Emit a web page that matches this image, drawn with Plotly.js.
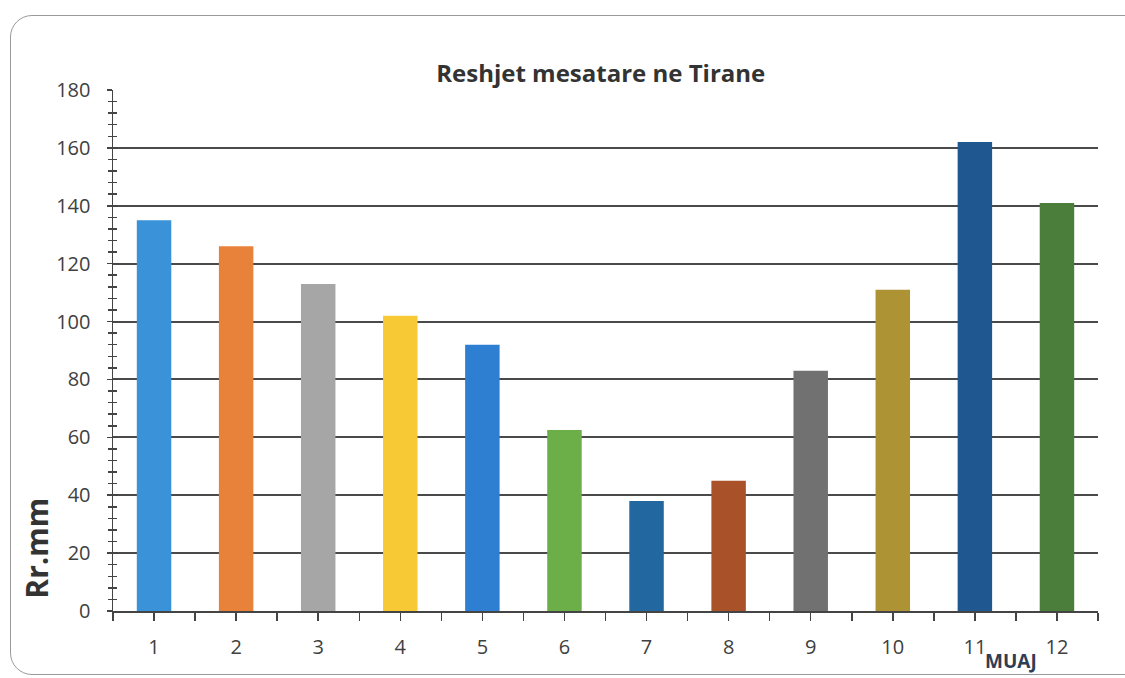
<!DOCTYPE html>
<html>
<head>
<meta charset="utf-8">
<script src="https://cdn.plot.ly/plotly-3.0.1.min.js"></script>
<style>
  html, body { margin: 0; padding: 0; background: #ffffff; }
  #frame { position: absolute; left: 10px; top: 15px; width: 1140px; height: 660px;
           border: 1.5px solid #9a9a9a; border-radius: 22px; box-sizing: border-box; }
  #chart { position: absolute; left: 0; top: 0; width: 1125px; height: 678px; }
</style>
</head>
<body>
<div id="frame"></div>
<div id="chart"></div>
<script>
const months = [1, 2, 3, 4, 5, 6, 7, 8, 9, 10, 11, 12];
const rainfall = [135, 126, 113, 102, 92, 62.5, 38, 45, 83, 111, 162, 141];
const barColors = ['#3a93d8', '#e8823a', '#a6a6a6', '#f7c934', '#2e7fd2', '#6cae48',
                   '#22679f', '#a9522a', '#717171', '#ad9334', '#1f5790', '#4b7e3a'];
const chartTitle = 'Reshjet mesatare ne Tirane';
const yTitle = 'Rr.mm';
const xTitle = 'MUAJ';

const fontFam = '"Open Sans", "Noto Sans", sans-serif';

const trace = {
  type: 'bar',
  x: months,
  y: rainfall,
  width: 0.42,
  marker: { color: barColors, line: { width: 0 } },
  hoverinfo: 'x+y'
};

// invisible trace to carry the second (inside-tick) y axis
const ghost = {
  type: 'scatter', x: [months[0]], y: [0], yaxis: 'y2',
  mode: 'markers', marker: { opacity: 0 }, showlegend: false, hoverinfo: 'skip'
};

const layout = {
  width: 1125, height: 678,
  margin: { l: 113, r: 27, t: 90, b: 67 },
  paper_bgcolor: 'rgba(0,0,0,0)',
  plot_bgcolor: 'rgba(0,0,0,0)',
  showlegend: false,
  bargap: 0.58,
  title: {
    text: chartTitle,
    font: { family: fontFam, size: 24, color: '#333333', weight: 'bold' },
    x: 0.534, xanchor: 'center', y: 0.892, yanchor: 'middle'
  },
  xaxis: {
    range: [0.5, 12.5],
    tickmode: 'array', tickvals: months, ticktext: months.map(String),
    ticks: 'outside', ticklen: 8, tickwidth: 1.5, tickcolor: '#444',
    minor: { tickmode: 'linear', tick0: 0.5, dtick: 1, ticks: 'outside', ticklen: 8, tickwidth: 1.5, tickcolor: '#444' },
    showline: true, linecolor: '#444', linewidth: 1.5,
    showgrid: false, zeroline: false,
    ticklabelstandoff: 9,
    tickfont: { family: fontFam, size: 20, color: '#404040' }
  },
  yaxis: {
    range: [0, 180],
    tickmode: 'linear', tick0: 0, dtick: 20,
    ticks: 'outside', ticklen: 5, tickwidth: 1.5, tickcolor: '#444',
    minor: { tickmode: 'linear', tick0: 0, dtick: 4, ticks: 'outside', ticklen: 4, tickwidth: 1.5, tickcolor: '#444', showgrid: false },
    showline: true, linecolor: '#444', linewidth: 1.5,
    showgrid: true, gridcolor: '#4a4a4a', gridwidth: 2,
    zeroline: false,
    ticklabelstandoff: 12,
    tickfont: { family: fontFam, size: 20, color: '#404040' }
  },
  yaxis2: {
    overlaying: 'y', side: 'left', anchor: 'x',
    range: [0, 180],
    tickmode: 'linear', tick0: 0, dtick: 20,
    ticks: 'inside', ticklen: 5, tickwidth: 1.5, tickcolor: '#444',
    minor: { tickmode: 'linear', tick0: 0, dtick: 4, ticks: 'inside', ticklen: 4, tickwidth: 1.5, tickcolor: '#444', showgrid: false },
    showticklabels: false, showgrid: false, zeroline: false, showline: false
  },
  annotations: [
    {
      text: yTitle, xref: 'paper', yref: 'paper',
      x: -0.078, y: 0.12, xanchor: 'center', yanchor: 'middle', textangle: -90,
      showarrow: false,
      font: { family: fontFam, size: 30, color: '#333333', weight: 'bold' }
    },
    {
      text: xTitle, xref: 'paper', yref: 'paper',
      x: 0.912, y: -0.124, xanchor: 'center', yanchor: 'bottom',
      showarrow: false,
      font: { family: fontFam, size: 19, color: '#2f3d55', weight: 'bold' }
    }
  ]
};

Plotly.newPlot('chart', [trace, ghost], layout, { displayModeBar: false, staticPlot: true });
</script>
</body>
</html>
